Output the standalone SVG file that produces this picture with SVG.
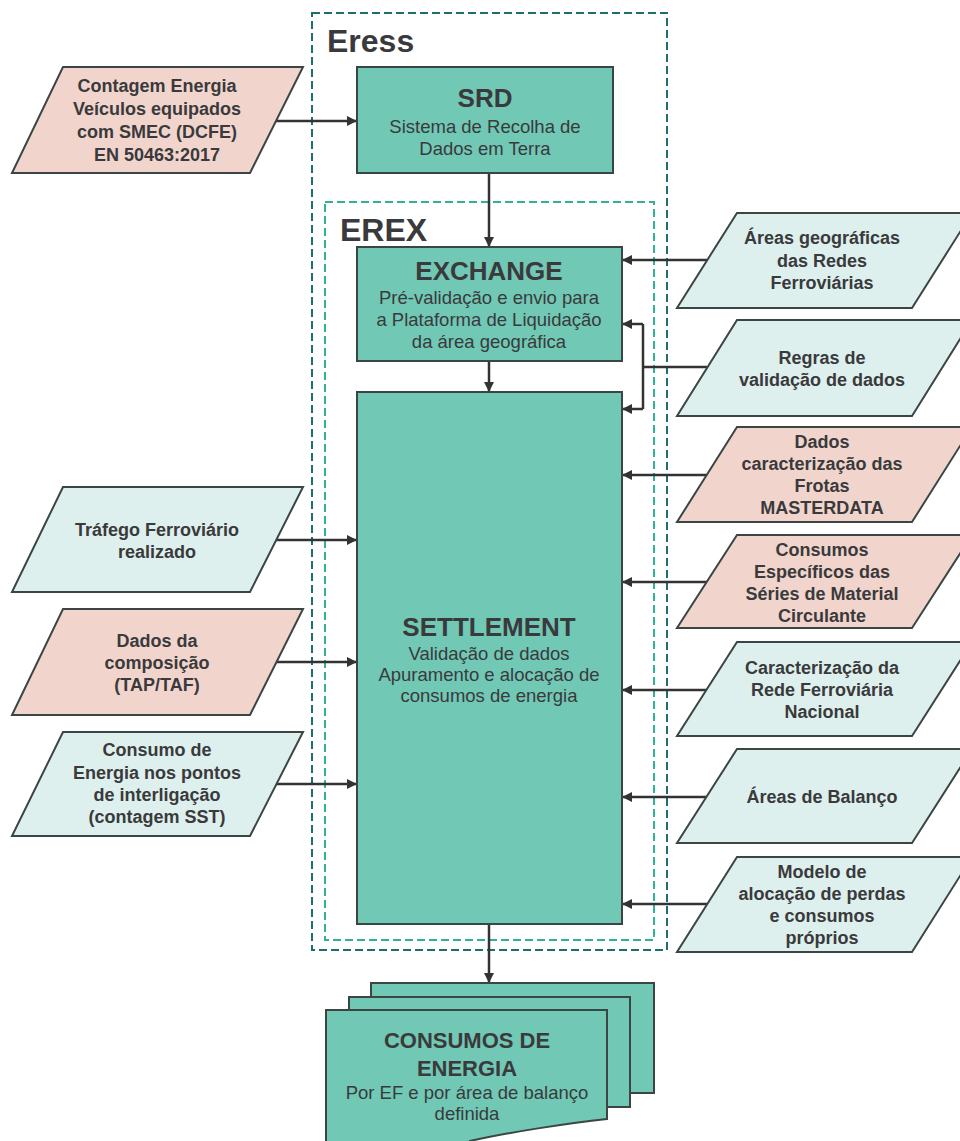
<svg xmlns="http://www.w3.org/2000/svg" width="960" height="1141" viewBox="0 0 960 1141">
<defs>
<style>
.box{fill:#70c8b5;stroke:#3b4644;stroke-width:2}
.pink{fill:#f1d5cc;stroke:#3b4644;stroke-width:2}
.lite{fill:#def0ed;stroke:#3b4644;stroke-width:2}
.t{font-family:"Liberation Sans",Arial,sans-serif;fill:#3a3a3c;text-anchor:middle}
.b{font-weight:bold;font-size:18px}
.r{font-size:18.5px}
.h{font-weight:bold;font-size:26px}
.c{stroke:#333;stroke-width:2.5;fill:none}
</style>
<marker id="ah" viewBox="0 0 10 10" refX="10" refY="5" markerWidth="4.4" markerHeight="4" orient="auto" markerUnits="strokeWidth">
<path d="M0,0 L10,5 L0,10 z" fill="#333"/>
</marker>
</defs>
<rect width="960" height="1141" fill="#ffffff"/>

<g id="eress">
<rect x="312" y="13" width="355" height="937" fill="none" stroke="#1f6e6c" stroke-width="2" stroke-dasharray="8,4"/>
<text x="327" y="52" font-family="Liberation Sans,Arial,sans-serif" font-weight="bold" font-size="32" fill="#3a3a3c">Eress</text>
</g>
<g id="erex">
<rect x="325" y="202" width="329" height="738" fill="none" stroke="#2fb394" stroke-width="2" stroke-dasharray="8,4"/>
<text x="340" y="241" font-family="Liberation Sans,Arial,sans-serif" font-weight="bold" font-size="32" fill="#3a3a3c">EREX</text>
</g>

<g id="connectors">
<path class="c" d="M489,173 V247" marker-end="url(#ah)"/>
<path class="c" d="M489,361 V392" marker-end="url(#ah)"/>
<path class="c" d="M489,924 V983" marker-end="url(#ah)"/>
<path class="c" d="M276,121 H357" marker-end="url(#ah)"/>
<path class="c" d="M276,540 H357" marker-end="url(#ah)"/>
<path class="c" d="M276,662 H357" marker-end="url(#ah)"/>
<path class="c" d="M276,784 H357" marker-end="url(#ah)"/>
<path class="c" d="M707,260 H622" marker-end="url(#ah)"/>
<path class="c" d="M707,367 H643"/>
<path class="c" d="M643,324 V409"/>
<path class="c" d="M643,324 H622" marker-end="url(#ah)"/>
<path class="c" d="M643,409 H622" marker-end="url(#ah)"/>
<path class="c" d="M707,475 H622" marker-end="url(#ah)"/>
<path class="c" d="M707,582 H622" marker-end="url(#ah)"/>
<path class="c" d="M707,690 H622" marker-end="url(#ah)"/>
<path class="c" d="M707,797 H622" marker-end="url(#ah)"/>
<path class="c" d="M707,904 H622" marker-end="url(#ah)"/>
</g>

<g id="srd">
<rect class="box" x="357" y="67" width="256" height="106"/>
<text class="t h" x="485" y="107">SRD</text>
<text class="t r" x="485" y="133">Sistema de Recolha de</text>
<text class="t r" x="485" y="155">Dados em Terra</text>
</g>

<g id="exchange">
<rect class="box" x="357" y="247" width="265" height="114"/>
<text class="t h" x="489" y="280">EXCHANGE</text>
<text class="t r" x="489" y="304">Pré-validação e envio para</text>
<text class="t r" x="489" y="326">a Plataforma de Liquidação</text>
<text class="t r" x="489" y="348">da área geográfica</text>
</g>

<g id="settlement">
<rect class="box" x="357" y="392" width="265" height="532"/>
<text class="t h" x="489" y="636">SETTLEMENT</text>
<text class="t r" x="489" y="660">Validação de dados</text>
<text class="t r" x="489" y="681">Apuramento e alocação de</text>
<text class="t r" x="489" y="702">consumos de energia</text>
</g>

<g id="consumos">
<rect class="box" x="371" y="983" width="283" height="110"/>
<rect class="box" x="349" y="997" width="281" height="110"/>
<path class="box" d="M326,1010 H607 V1119 C570,1123 510,1132 470,1141 L460,1150 H326 Z"/>
<text class="t" x="467" y="1048" font-weight="bold" font-size="22">CONSUMOS DE</text>
<text class="t" x="467" y="1076" font-weight="bold" font-size="22">ENERGIA</text>
<text class="t r" x="467" y="1099">Por EF e por área de balanço</text>
<text class="t r" x="467" y="1120">definida</text>
</g>

<g id="in-contagem">
<polygon class="pink" points="63,67 303,67 250,173 12,173"/>
<text class="t b" x="157" y="92">Contagem Energia</text>
<text class="t b" x="157" y="115">Veículos equipados</text>
<text class="t b" x="157" y="138">com SMEC (DCFE)</text>
<text class="t b" x="157" y="161">EN 50463:2017</text>
</g>

<g id="in-trafego">
<polygon class="lite" points="63,487 303,487 250,592 12,592"/>
<text class="t b" x="157" y="536">Tráfego Ferroviário</text>
<text class="t b" x="157" y="558">realizado</text>
</g>

<g id="in-composicao">
<polygon class="pink" points="63,609 303,609 250,715 12,715"/>
<text class="t b" x="157" y="647">Dados da</text>
<text class="t b" x="157" y="669">composição</text>
<text class="t b" x="157" y="691">(TAP/TAF)</text>
</g>

<g id="in-sst">
<polygon class="lite" points="63,732 303,732 250,836 12,836"/>
<text class="t b" x="157" y="756">Consumo de</text>
<text class="t b" x="157" y="779">Energia nos pontos</text>
<text class="t b" x="157" y="801">de interligação</text>
<text class="t b" x="157" y="823">(contagem SST)</text>
</g>

<g id="in-areas-geo">
<polygon class="lite" points="737,213 972,213 912,308 677,308"/>
<text class="t b" x="822" y="244">Áreas geográficas</text>
<text class="t b" x="822" y="267">das Redes</text>
<text class="t b" x="822" y="289">Ferroviárias</text>
</g>

<g id="in-regras">
<polygon class="lite" points="737,320 972,320 912,416 677,416"/>
<text class="t b" x="822" y="364">Regras de</text>
<text class="t b" x="822" y="386">validação de dados</text>
</g>

<g id="in-frotas">
<polygon class="pink" points="737,427 972,427 912,522 677,522"/>
<text class="t b" x="822" y="448">Dados</text>
<text class="t b" x="822" y="470">caracterização das</text>
<text class="t b" x="822" y="492">Frotas</text>
<text class="t b" x="822" y="514">MASTERDATA</text>
</g>

<g id="in-consumos-esp">
<polygon class="pink" points="737,535 972,535 912,628 677,628"/>
<text class="t b" x="822" y="556">Consumos</text>
<text class="t b" x="822" y="578">Específicos das</text>
<text class="t b" x="822" y="600">Séries de Material</text>
<text class="t b" x="822" y="622">Circulante</text>
</g>

<g id="in-rede">
<polygon class="lite" points="737,642 972,642 912,736 677,736"/>
<text class="t b" x="822" y="674">Caracterização da</text>
<text class="t b" x="822" y="696">Rede Ferroviária</text>
<text class="t b" x="822" y="718">Nacional</text>
</g>

<g id="in-balanco">
<polygon class="lite" points="737,749 972,749 912,843 677,843"/>
<text class="t b" x="822" y="803">Áreas de Balanço</text>
</g>

<g id="in-perdas">
<polygon class="lite" points="737,857 972,857 912,952 677,952"/>
<text class="t b" x="822" y="878">Modelo de</text>
<text class="t b" x="822" y="900">alocação de perdas</text>
<text class="t b" x="822" y="922">e consumos</text>
<text class="t b" x="822" y="944">próprios</text>
</g>
</svg>
